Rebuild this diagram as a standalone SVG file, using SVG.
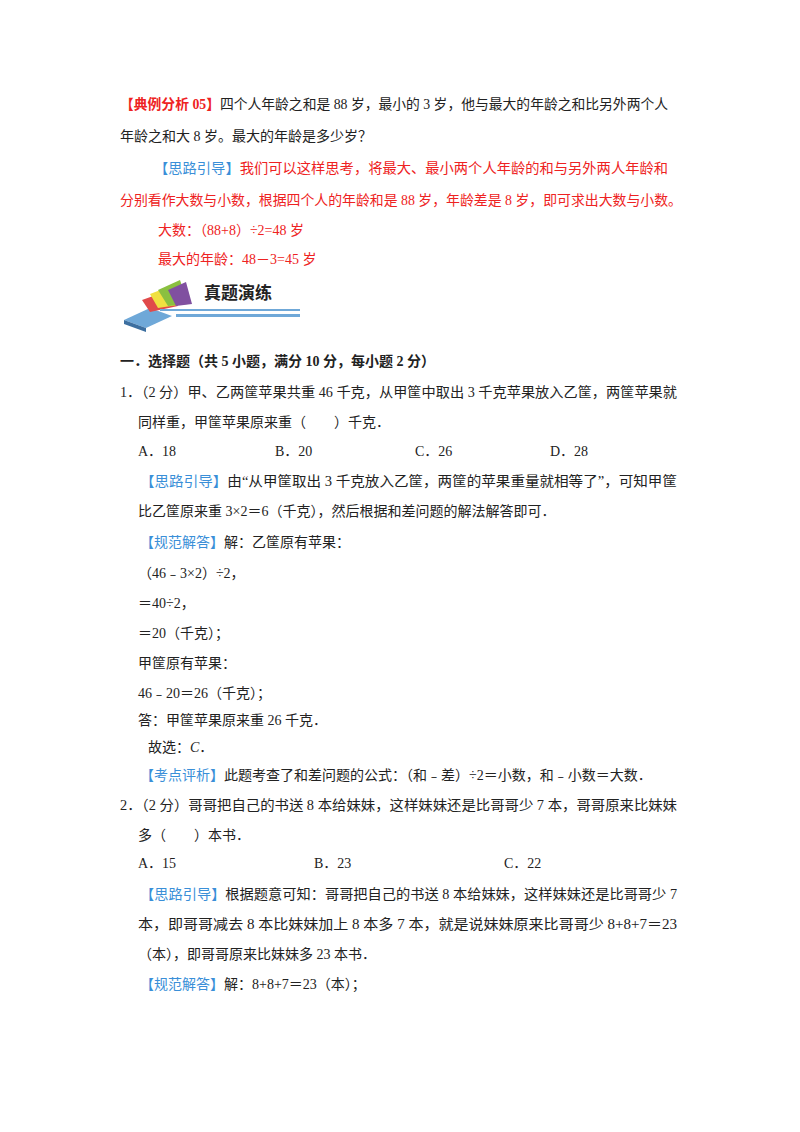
<svg xmlns="http://www.w3.org/2000/svg" width="800" height="1132" viewBox="0 0 800 1132">
<style>
text{font-family:"Liberation Serif","Noto Sans CJK SC",serif;font-size:14px;fill:#222}
.r{fill:#ee2222}.b{fill:#3a8fd8}.rb{fill:#ee2222;font-weight:bold}
.h{font-weight:bold}
</style>
<rect width="800" height="1132" fill="#fff"/>
<text x="120" y="109" textLength="548" lengthAdjust="spacingAndGlyphs"><tspan class="rb">【典例分析 05】</tspan>四个人年龄之和是 88 岁，最小的 3 岁，他与最大的年龄之和比另外两个人</text>
<text x="120" y="141">年龄之和大 8 岁。最大的年龄是多少岁？</text>
<text x="154" y="173" textLength="514" lengthAdjust="spacingAndGlyphs" class="r"><tspan class="b">【思路引导】</tspan>我们可以这样思考，将最大、最小两个人年龄的和与另外两人年龄和</text>
<text x="120" y="205" textLength="562" lengthAdjust="spacingAndGlyphs" class="r">分别看作大数与小数，根据四个人的年龄和是 88 岁，年龄差是 8 岁，即可求出大数与小数。</text>
<text x="158" y="235" class="r">大数：（88+8）÷2=48 岁</text>
<text x="158" y="264" class="r">最大的年龄：48－3=45 岁</text>
<g id="icon">
<polygon points="124,320 150,308 172,316 146,328" fill="#6fa8d8"/>
<polygon points="124,320 146,328 146,332 124,324" fill="#3d6fa0"/>
<polygon points="142,300 170,290 178,306 150,312" fill="#e04a4a"/>
<polygon points="150,294 176,284 184,304 158,308" fill="#f0e040"/>
<polygon points="158,290 180,280 188,304 168,306" fill="#8ac040"/>
<polygon points="168,290 186,282 192,304 176,306" fill="#8050a0"/>
<rect x="160" y="309" width="140" height="2" fill="#6fa8d8"/>
<rect x="176" y="314" width="124" height="3" fill="#6fa8d8"/>
</g>
<text x="204" y="299" style="font-family:'Noto Sans CJK SC',sans-serif;font-size:17px;font-weight:bold">真题演练</text>
<text x="120" y="366" class="h">一．选择题（共 5 小题，满分 10 分，每小题 2 分）</text>
<text x="120" y="397" textLength="557" lengthAdjust="spacingAndGlyphs">1．（2 分）甲、乙两筐苹果共重 46 千克，从甲筐中取出 3 千克苹果放入乙筐，两筐苹果就</text>
<text x="138" y="427">同样重，甲筐苹果原来重（　　）千克．</text>
<text x="138" y="456">A．18</text><text x="275" y="456">B．20</text><text x="415" y="456">C．26</text><text x="550" y="456">D．28</text>
<text x="140" y="486" textLength="537" lengthAdjust="spacingAndGlyphs"><tspan class="b">【思路引导】</tspan>由“从甲筐取出 3 千克放入乙筐，两筐的苹果重量就相等了”，可知甲筐</text>
<text x="138" y="516">比乙筐原来重 3×2＝6（千克），然后根据和差问题的解法解答即可．</text>
<text x="140" y="547"><tspan class="b">【规范解答】</tspan>解：乙筐原有苹果：</text>
<text x="138" y="578">（46﹣3×2）÷2，</text>
<text x="138" y="608">＝40÷2，</text>
<text x="138" y="638">＝20（千克）；</text>
<text x="138" y="668">甲筐原有苹果：</text>
<text x="138" y="698">46﹣20＝26（千克）；</text>
<text x="138" y="725">答：甲筐苹果原来重 26 千克．</text>
<text x="148" y="752">故选：<tspan font-style="italic">C</tspan>．</text>
<text x="140" y="780"><tspan class="b">【考点评析】</tspan>此题考查了和差问题的公式：（和﹣差）÷2＝小数，和﹣小数＝大数．</text>
<text x="120" y="810" textLength="557" lengthAdjust="spacingAndGlyphs">2．（2 分）哥哥把自己的书送 8 本给妹妹，这样妹妹还是比哥哥少 7 本，哥哥原来比妹妹</text>
<text x="138" y="840">多（　　）本书．</text>
<text x="138" y="868">A．15</text><text x="314" y="868">B．23</text><text x="504" y="868">C．22</text>
<text x="140" y="899" textLength="537" lengthAdjust="spacingAndGlyphs"><tspan class="b">【思路引导】</tspan>根据题意可知：哥哥把自己的书送 8 本给妹妹，这样妹妹还是比哥哥少 7</text>
<text x="138" y="929" textLength="539" lengthAdjust="spacingAndGlyphs">本，即哥哥减去 8 本比妹妹加上 8 本多 7 本，就是说妹妹原来比哥哥少 8+8+7＝23</text>
<text x="138" y="959">（本），即哥哥原来比妹妹多 23 本书．</text>
<text x="140" y="989"><tspan class="b">【规范解答】</tspan>解：8+8+7＝23（本）；</text>
</svg>
